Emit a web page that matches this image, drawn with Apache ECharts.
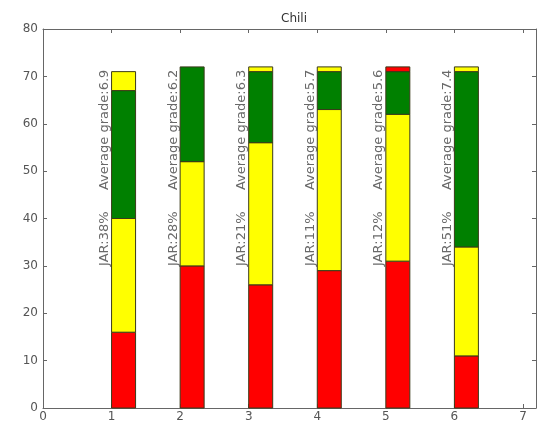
<!DOCTYPE html>
<html>
<head>
<meta charset="utf-8">
<script src="https://cdn.jsdelivr.net/npm/echarts@6/dist/echarts.min.js"></script>
<style>
  html, body { margin: 0; padding: 0; background: #fff; }
  #chart { width: 537px; height: 423px; }
</style>
</head>
<body>
<div id="chart"></div>
<script>
// ---- data ----
const titleText = 'Chili';
const categories = [1, 2, 3, 4, 5, 6];
const redVals    = [16, 30, 26, 29, 31, 11];
const yellowVals = [24, 22, 30, 34, 31, 23];
const greenVals  = [27, 20, 15, 8, 9, 37];
const topVals    = [4, 0, 1, 1, 1, 1];
const topColors  = ['#ffff00', '#ffff00', '#ffff00', '#ffff00', '#ff0000', '#ffff00'];
const jarLabels  = ['JAR:38%', 'JAR:28%', 'JAR:21%', 'JAR:11%', 'JAR:12%', 'JAR:51%'];
const gradeLabels = ['Average grade:6.9', 'Average grade:6.2', 'Average grade:6.3',
                     'Average grade:5.7', 'Average grade:5.6', 'Average grade:7.4'];
const yTicks = [0, 10, 20, 30, 40, 50, 60, 70, 80];
const xTicks = [0, 1, 2, 3, 4, 5, 6, 7];

// ---- layout constants ----
const barW = 0.35;
const jarY = 30;
const gradeY = 46;
const textOffset = -0.1;
const RED = '#ff0000', YELLOW = '#ffff00', GREEN = '#008000';

// build stacked segments
const segments = [];
categories.forEach((c, i) => {
  let base = 0;
  const layers = [[redVals[i], RED], [yellowVals[i], YELLOW], [greenVals[i], GREEN], [topVals[i], topColors[i]]];
  layers.forEach(([v, col]) => {
    if (v > 0) {
      segments.push({ value: [c, base, base + v], itemStyle: { color: col } });
    }
    base += v;
  });
});

function renderItem(params, api) {
  const x = api.value(0), y0 = api.value(1), y1 = api.value(2);
  const p0 = api.coord([x, y0]);
  const p1 = api.coord([x + barW, y1]);
  return {
    type: 'rect',
    shape: { x: p0[0], y: p1[1], width: p1[0] - p0[0], height: p0[1] - p1[1] },
    style: { fill: api.visual('color'), stroke: '#3a3a1a', lineWidth: 1 }
  };
}

const textLabel = {
  show: true, position: 'inside', rotate: 90, align: 'left', verticalAlign: 'middle',
  formatter: p => p.name, color: '#444', fontFamily: 'DejaVu Sans', fontSize: 13
};

const axisColor = '#666';
const xMin = xTicks[0], xMax = 7.19;
const yMin = yTicks[0], yMax = yTicks[yTicks.length - 1];

const chart = echarts.init(document.getElementById('chart'), null, { renderer: 'canvas' });
chart.setOption({
  animation: false,
  backgroundColor: '#fff',
  title: {
    text: titleText, left: 289, top: 8, textAlign: 'center',
    textStyle: { fontFamily: 'DejaVu Sans', fontSize: 12, fontWeight: 'normal', color: '#333' }
  },
  grid: { left: 43, top: 29, right: 1, bottom: 14, containLabel: false },
  xAxis: [
    {
      type: 'value', min: xMin, max: xMax, interval: 1, position: 'bottom',
      axisLine: { show: true, lineStyle: { color: axisColor, width: 1 } },
      axisTick: { show: true, inside: true, length: 4, lineStyle: { color: axisColor } },
      axisLabel: {
        margin: 3, color: '#555', fontFamily: 'DejaVu Sans', fontSize: 12,
        showMaxLabel: false,
        formatter: v => (xTicks.indexOf(v) >= 0 ? String(v) : '')
      },
      splitLine: { show: false }
    },
    {
      type: 'value', min: xMin, max: xMax, interval: 1, position: 'top',
      axisLine: { show: true, onZero: false, lineStyle: { color: axisColor, width: 1 } },
      axisTick: { show: true, inside: true, length: 4, lineStyle: { color: axisColor } },
      axisLabel: { show: false }, splitLine: { show: false }
    }
  ],
  yAxis: [
    {
      type: 'value', min: yMin, max: yMax, interval: 10, position: 'left',
      axisLine: { show: true, onZero: false, lineStyle: { color: axisColor, width: 1 } },
      axisTick: { show: true, inside: true, length: 4, lineStyle: { color: axisColor } },
      axisLabel: { margin: 5, color: '#555', fontFamily: 'DejaVu Sans', fontSize: 12 },
      splitLine: { show: false }
    },
    {
      type: 'value', min: yMin, max: yMax, interval: 10, position: 'right',
      axisLine: { show: true, onZero: false, lineStyle: { color: axisColor, width: 1 } },
      axisTick: { show: true, inside: true, length: 4, lineStyle: { color: axisColor } },
      axisLabel: { show: false }, splitLine: { show: false }
    }
  ],
  series: [
    {
      type: 'custom', renderItem: renderItem, xAxisIndex: 0, yAxisIndex: 0,
      encode: { x: 0, y: [1, 2] }, data: segments, z: 2
    },
    {
      type: 'scatter', symbolSize: 0, xAxisIndex: 0, yAxisIndex: 0, z: 3,
      data: categories.map((c, i) => ({ name: jarLabels[i], value: [c + textOffset, jarY] })),
      label: textLabel
    },
    {
      type: 'scatter', symbolSize: 0, xAxisIndex: 0, yAxisIndex: 0, z: 3,
      data: categories.map((c, i) => ({ name: gradeLabels[i], value: [c + textOffset, gradeY] })),
      label: textLabel
    }
  ]
});
</script>
</body>
</html>
